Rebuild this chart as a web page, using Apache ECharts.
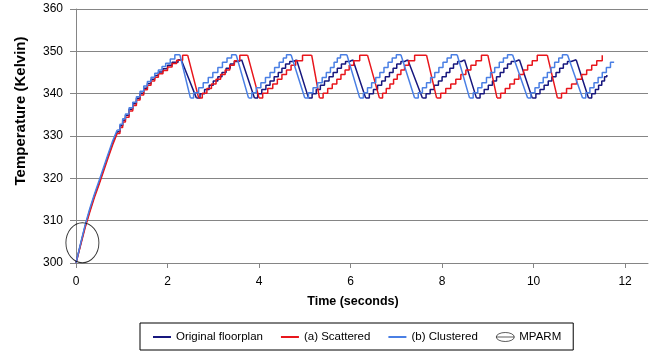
<!DOCTYPE html>
<html>
<head>
<meta charset="utf-8">
<script src="https://cdn.jsdelivr.net/npm/echarts@6/dist/echarts.min.js"></script>
<style>html,body{margin:0;padding:0;background:#fff;}#chart{width:659px;height:355px;}</style>
</head>
<body>
<div id="chart"></div>
<script>
// ---- tick labels ----
const xTicks = [0, 2, 4, 6, 8, 10, 12];
const yTicks = [300, 310, 320, 330, 340, 350, 360];

// ---- series names ----
const seriesNames = ['Original floorplan', '(a) Scattered', '(b) Clustered'];
const markerName = 'MPARM';

// ---- Original floorplan ----
const origHeat = [[0,300],[0.1,304.4],[0.2,308.7],[0.3,312.4],[0.4,315.8],[0.5,318.8],[0.6,322],[0.7,325.2],[0.8,328.3],[0.9,331]];
const origCycles = [
  [[0.9,331],[0.96,332.4],[1.02,333.7],[1.08,334.9],[1.16,336.3],[1.24,337.6],[1.32,338.9],[1.4,340.1],[1.48,341.3],[1.56,342.4],[1.64,343.4],[1.72,344.3],[1.8,345.1],[1.9,345.9],[2.0,346.7],[2.1,347.4],[2.23,348],[2.3,348]],
  [[2.63,339],[2.71,340],[2.81,341],[2.91,342],[3.0,343],[3.1,344],[3.19,345],[3.28,346],[3.37,347],[3.46,347.6],[3.55,348],[3.62,348]],
  [[3.9,339],[3.97,340],[4.06,341],[4.15,342],[4.24,343],[4.33,344],[4.42,345],[4.5,346],[4.58,347],[4.67,347.6],[4.75,348],[4.82,348]],
  [[5.08,339],[5.16,340],[5.25,341],[5.34,342],[5.43,343],[5.53,344],[5.62,345],[5.71,346],[5.8,347],[5.89,347.6],[5.98,348],[6.05,348]],
  [[6.33,339],[6.41,340],[6.5,341],[6.59,342],[6.68,343],[6.76,344],[6.85,345],[6.93,346],[7.01,347],[7.1,347.6],[7.18,348],[7.25,348]],
  [[7.57,339],[7.65,340],[7.74,341],[7.83,342],[7.92,343],[8.0,344],[8.09,345],[8.17,346],[8.25,347],[8.34,347.6],[8.42,348],[8.49,348]],
  [[8.75,339],[8.83,340],[8.92,341],[9.01,342],[9.1,343],[9.19,344],[9.27,345],[9.35,346],[9.43,347],[9.51,347.6],[9.6,348],[9.69,348]],
  [[9.97,339],[10.05,340],[10.14,341],[10.23,342],[10.32,343],[10.4,344],[10.49,345],[10.57,346],[10.65,347],[10.74,347.6],[10.82,348],[10.93,348]],
  [[11.2,339],[11.27,340],[11.35,341],[11.42,342],[11.49,343],[11.55,344],[11.6,344.4]]
];

// ---- (a) Scattered ----
const scatHeat = [[0,300],[0.1,304.2],[0.2,308.4],[0.3,312],[0.4,315.4],[0.5,318.4],[0.6,321.6],[0.7,324.8],[0.8,327.9],[0.9,330.6]];
const scatCycles = [
  [[0.9,330.6],[0.96,332],[1.02,333.3],[1.08,334.4],[1.16,335.9],[1.24,337.2],[1.32,338.5],[1.4,339.7],[1.48,340.9],[1.56,342],[1.64,343],[1.72,343.9],[1.8,344.7],[1.9,345.5],[2.0,346.3],[2.1,347.1],[2.2,347.9],[2.33,349.1],[2.44,349.1]],
  [[2.68,339],[2.76,340.1],[2.86,341.2],[2.96,342.3],[3.06,343.4],[3.16,344.5],[3.26,345.6],[3.36,346.7],[3.46,347.8],[3.58,349.1],[3.75,349.1]],
  [[4.0,339],[4.08,340.1],[4.19,341.2],[4.3,342.3],[4.4,343.4],[4.5,344.5],[4.6,345.6],[4.7,346.7],[4.8,347.8],[4.95,349.1],[5.15,349.1]],
  [[5.32,339],[5.4,340.1],[5.5,341.2],[5.6,342.3],[5.7,343.4],[5.79,344.5],[5.88,345.6],[5.97,346.7],[6.07,347.8],[6.2,349.1],[6.37,349.1]],
  [[6.63,339],[6.7,340.1],[6.78,341.2],[6.86,342.3],[6.94,343.4],[7.02,344.5],[7.1,345.6],[7.18,346.7],[7.27,347.8],[7.4,349.1],[7.66,349.1]],
  [[7.88,339],[7.97,340.1],[8.08,341.2],[8.19,342.3],[8.3,343.4],[8.41,344.5],[8.52,345.6],[8.63,346.7],[8.74,347.8],[8.86,349.1],[9.0,349.1]],
  [[9.2,339],[9.28,340.1],[9.38,341.2],[9.48,342.3],[9.58,343.4],[9.68,344.5],[9.78,345.6],[9.87,346.7],[9.97,347.8],[10.08,349.1],[10.3,349.1]],
  [[10.52,339],[10.61,340.1],[10.72,341.2],[10.83,342.3],[10.94,343.4],[11.05,344.5],[11.16,345.6],[11.27,346.7],[11.38,347.8],[11.5,349.1]]
];

// ---- (b) Clustered ----
const clusHeat = [[0,300],[0.1,304.6],[0.2,309],[0.3,312.8],[0.4,316.2],[0.5,319.3],[0.6,322.5],[0.7,325.7],[0.8,328.8],[0.9,331.4]];
const clusCycles = [
  [[0.9,331.4],[0.96,332.8],[1.02,334.1],[1.08,335.2],[1.16,336.7],[1.24,338],[1.32,339.3],[1.4,340.6],[1.48,341.8],[1.56,342.9],[1.64,343.9],[1.72,344.8],[1.8,345.6],[1.88,346.4],[1.96,347.2],[2.06,348.2],[2.16,349.2],[2.27,349.2]],
  [[2.5,339],[2.57,340.2],[2.68,341.4],[2.78,342.6],[2.89,343.8],[2.99,345],[3.1,346.2],[3.2,347.4],[3.3,348.4],[3.4,349.2],[3.5,349.2]],
  [[3.77,339],[3.84,340.2],[3.94,341.4],[4.04,342.6],[4.14,343.8],[4.24,345],[4.34,346.2],[4.44,347.4],[4.53,348.4],[4.6,349.2],[4.7,349.2]],
  [[5.0,339],[5.08,340.2],[5.18,341.4],[5.28,342.6],[5.38,343.8],[5.47,345],[5.56,346.2],[5.64,347.4],[5.71,348.4],[5.78,349.2],[5.92,349.2]],
  [[6.2,339],[6.28,340.2],[6.37,341.4],[6.46,342.6],[6.55,343.8],[6.64,345],[6.73,346.2],[6.82,347.4],[6.91,348.4],[7.0,349.2],[7.1,349.2]],
  [[7.4,339],[7.48,340.2],[7.57,341.4],[7.66,342.6],[7.75,343.8],[7.84,345],[7.93,346.2],[8.02,347.4],[8.11,348.4],[8.2,349.2],[8.33,349.2]],
  [[8.6,339],[8.68,340.2],[8.78,341.4],[8.87,342.6],[8.97,343.8],[9.06,345],[9.15,346.2],[9.25,347.4],[9.34,348.4],[9.43,349.2],[9.54,349.2]],
  [[9.87,339],[9.94,340.2],[10.03,341.4],[10.12,342.6],[10.21,343.8],[10.3,345],[10.38,346.2],[10.46,347.4],[10.55,348.4],[10.63,349.2],[10.74,349.2]],
  [[11.07,339],[11.14,340.2],[11.23,341.4],[11.32,342.6],[11.41,343.8],[11.5,345],[11.59,346.2],[11.68,347.4],[11.76,347.5]]
];

// ---- MPARM marker (ellipse centre) ----
const mparmPoint = [[0.14, 304.8]];

// ---- build library data ----
function stepData(cycles) {
  const out = [];
  cycles.forEach(function (c, i) { if (i) out.push(null); c.forEach(function (p) { out.push(p); }); });
  return out;
}
function rampData(heat, cycles) {
  const out = heat.slice();
  for (let i = 0; i < cycles.length - 1; i++) {
    out.push(null, cycles[i][cycles[i].length - 1], cycles[i + 1][0]);
  }
  return out;
}

const FONT = '"Liberation Sans", Arial, sans-serif';
const colors = ['#17177e', '#e8161c', '#4a7fe4'];
const heats = [origHeat, scatHeat, clusHeat];
const cycleSets = [origCycles, scatCycles, clusCycles];

const series = [];
seriesNames.forEach(function (name, k) {
  const base = {
    name: name, type: 'line', symbol: 'none', showSymbol: false, connectNulls: false,
    lineStyle: { color: colors[k], width: 1.5 }, itemStyle: { color: colors[k] },
    animation: false, z: 2 + k
  };
  series.push(Object.assign({}, base, { step: 'end', data: stepData(cycleSets[k]) }));
  series.push(Object.assign({}, base, { data: rampData(heats[k], cycleSets[k]) }));
});
series.push({
  name: markerName, type: 'scatter', data: mparmPoint, symbol: 'circle', symbolSize: [33, 40],
  itemStyle: { color: 'rgba(0,0,0,0)', borderColor: '#000', borderWidth: 1 },
  animation: false, z: 10, silent: true
});

const LINE_ICON = 'path://M0,0M18,10M0,4L18,4L18,6L0,6Z';
const ELLIPSE_ICON = 'path://M0,5A10,5,0,1,1,20,5A10,5,0,1,1,0,5ZM0,5L20,5';

const chart = echarts.init(document.getElementById('chart'), null, { renderer: 'canvas' });
chart.setOption({
  backgroundColor: '#fff',
  animation: false,
  grid: { left: 76, top: 9, right: 11, bottom: 92, containLabel: false },
  xAxis: {
    type: 'value', min: xTicks[0], max: 12.5, interval: xTicks[1] - xTicks[0],
    name: 'Time (seconds)', nameLocation: 'middle', nameGap: 32,
    nameTextStyle: { fontFamily: FONT, fontWeight: 'bold', fontSize: 12.5, color: '#000', padding: [0, 18, 0, 0] },
    axisLine: { show: true, lineStyle: { color: '#858585', width: 1 } },
    axisTick: { show: true, length: 5, lineStyle: { color: '#858585' } },
    axisLabel: { fontFamily: FONT, fontSize: 12, color: '#000', margin: 13, showMaxLabel: false,
      formatter: function (v) { return xTicks.indexOf(v) >= 0 ? String(v) : ''; } },
    splitLine: { show: false }
  },
  yAxis: {
    type: 'value', min: yTicks[0], max: yTicks[yTicks.length - 1], interval: yTicks[1] - yTicks[0],
    name: 'Temperature (Kelvin)', nameLocation: 'middle', nameGap: 48,
    nameTextStyle: { fontFamily: FONT, fontWeight: 'bold', fontSize: 15, color: '#000', padding: [0, 0, 0, 50] },
    axisLine: { show: true, lineStyle: { color: '#858585', width: 1 } },
    axisTick: { show: true, length: 6, lineStyle: { color: '#858585' } },
    axisLabel: { fontFamily: FONT, fontSize: 12, color: '#000', margin: 13 },
    splitLine: { show: true, lineStyle: { color: '#858585', width: 1 } }
  },
  legend: {
    left: 140, top: 323, orient: 'horizontal',
    padding: [8, 12, 7, 13], itemGap: 18, itemWidth: 18, itemHeight: 10,
    borderColor: '#000', borderWidth: 1,
    textStyle: { fontFamily: FONT, fontSize: 11.5, color: '#000' },
    data: [
      { name: seriesNames[0], icon: LINE_ICON },
      { name: seriesNames[1], icon: LINE_ICON },
      { name: seriesNames[2], icon: LINE_ICON },
      { name: markerName, icon: ELLIPSE_ICON, itemStyle: { borderWidth: 0.8, borderColor: '#000', color: 'rgba(0,0,0,0)' } }
    ]
  },
  series: series
});
</script>
</body>
</html>
